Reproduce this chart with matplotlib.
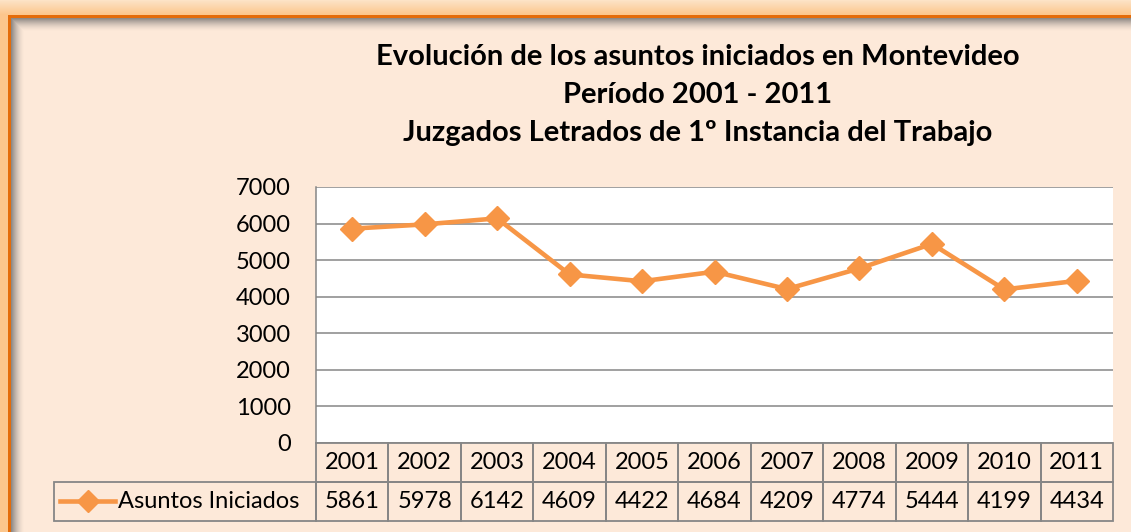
#!/usr/bin/env python3
# plot.py

import matplotlib.pyplot as plt
import matplotlib.transforms as mtransforms
from matplotlib.colors import to_rgb
from matplotlib.patches import Rectangle
from matplotlib.lines import Line2D
import numpy as np

years = ["2001", "2002", "2003", "2004", "2005", "2006",
         "2007", "2008", "2009", "2010", "2011"]
asuntos = [5861, 5978, 6142, 4609, 4422, 4684, 4209, 4774, 5444, 4199, 4434]
series_name = "Asuntos Iniciados"
title_lines = ["Evolución de los asuntos iniciados en Montevideo",
               "Período 2001 - 2011",
               "Juzgados Letrados de 1º Instancia del Trabajo"]
yticks = [0, 1000, 2000, 3000, 4000, 5000, 6000, 7000]

ORANGE = "#F79646"
FILL = "#FDE9D9"
GRID = "#868686"
FONT = "Lato"


def background(fig):
    W, H = 1131, 532
    img = np.zeros((H, W, 3))
    img[:, :] = to_rgb(FILL)
    # outer glow band (top and left)
    top = np.array(to_rgb("#FDE3C6"))
    bot = np.array(to_rgb("#FCC68C"))
    for r in range(15):
        img[r, :] = top + (bot - top) * r / 14
    img[15:, :8] = bot
    # shadow inside the frame
    rows = np.arange(H)[:, None] - 18
    cols = np.arange(W)[None, :] - 11
    d = np.minimum(np.where(rows < 0, 99, rows), np.where(cols < 0, 99, cols))
    a = np.clip(1 - d / 13.0, 0, 1) ** 1.6 * 0.7
    a[:18, :] = 0
    a[:, :11] = 0
    shade = np.array(to_rgb("#606060"))
    img = img * (1 - a[..., None]) + shade * a[..., None]
    # orange border line
    img[15:18, 8:] = to_rgb("#E46C0A")
    img[15:, 8:11] = to_rgb("#E46C0A")
    bg = fig.add_axes([0, 0, 1, 1], zorder=-10)
    bg.imshow(img, aspect="auto", interpolation="nearest")
    bg.axis("off")


def plot(ax):
    n = len(years)
    x = np.arange(n) + 0.5
    ax.set_facecolor("white")
    ax.plot(x, asuntos, color=ORANGE, lw=3.3, marker="D", markersize=12,
            markeredgecolor=ORANGE, zorder=3)
    ax.set_xlim(0, n)
    ax.set_ylim(0, 7000)
    ax.set_yticks(yticks)
    ax.set_yticklabels([str(v) for v in yticks], fontsize=17, family=FONT)
    ax.tick_params(axis="y", length=0, pad=18)
    ax.set_xticks([])
    ax.grid(axis="y", color=GRID, lw=1.1)
    ax.set_axisbelow(True)
    for s in ["top", "right", "bottom"]:
        ax.spines[s].set_visible(False)
    ax.spines["left"].set_color(GRID)
    ax.spines["left"].set_linewidth(1.1)

    # data table below the plot
    trans = mtransforms.blended_transform_factory(ax.transData, ax.transAxes)
    row_h = 0.1523
    for i in range(n):
        for r, txt in enumerate([years[i], str(asuntos[i])]):
            y0 = -row_h * (r + 1)
            ax.add_patch(Rectangle((i, y0), 1, row_h, transform=trans,
                                   facecolor="none", edgecolor=GRID, lw=1.3,
                                   clip_on=False))
            ax.text(i + 0.5, y0 + row_h / 2, txt, transform=trans, ha="center",
                    va="center", fontsize=17, family=FONT)
    # legend cell
    left = -0.3287
    ax.add_patch(Rectangle((left, -2 * row_h), -left, row_h, transform=ax.transAxes,
                           facecolor="none", edgecolor=GRID, lw=1.3, clip_on=False))
    ymid = -1.5 * row_h
    ax.add_line(Line2D([left + 0.008, left + 0.077], [ymid, ymid], transform=ax.transAxes,
                       color=ORANGE, lw=3.3, clip_on=False))
    ax.plot([left + 0.0425], [ymid], transform=ax.transAxes, marker="D",
            markersize=11, color=ORANGE, clip_on=False)
    ax.text(left + 0.0805, ymid, series_name, transform=ax.transAxes, ha="left",
            va="center", fontsize=17, family=FONT)


def main():
    fig = plt.figure(figsize=(11.31, 5.32), dpi=100)
    background(fig)
    ax = fig.add_axes([0.2794, 0.1673, 0.7047, 0.4812])
    plot(ax)
    for k, line in enumerate(title_lines):
        fig.text(0.617, 1 - (57 + 38 * k) / 532, line, ha="center", va="center",
                 fontsize=21, fontweight="bold", family=FONT)
    fig.savefig("out.png", dpi=100)


if __name__ == "__main__":
    main()
